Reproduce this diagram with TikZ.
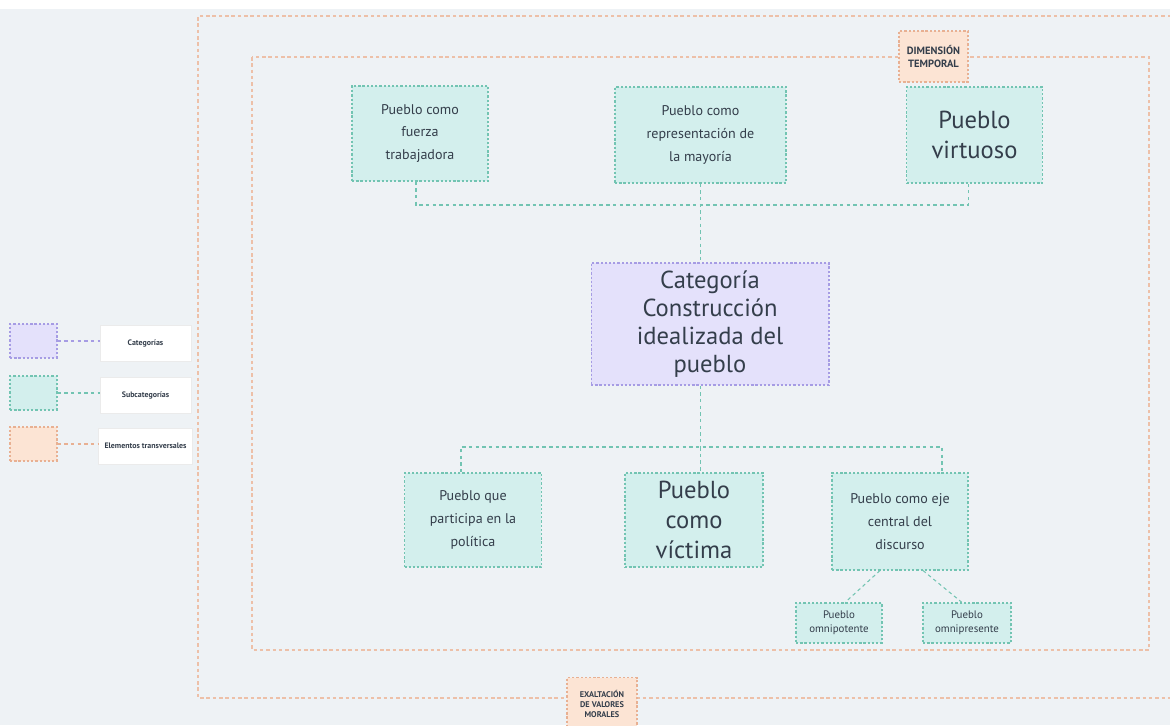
\documentclass[tikz,border=0pt]{standalone}
\usepackage{fontspec}
\setmainfont{PT Sans}
\usetikzlibrary{positioning,calc}

\definecolor{bgcol}{HTML}{EEF2F5}
\definecolor{ink}{HTML}{343E4B}
\definecolor{catfill}{HTML}{E4E1FB}
\definecolor{catline}{HTML}{A69CE4}
\definecolor{subfill}{HTML}{D3EFED}
\definecolor{subline}{HTML}{72C4B2}
\definecolor{transfill}{HTML}{FCE4D4}
\definecolor{transline}{HTML}{E8B092}

\tikzset{
  dots/.style={dash pattern=on 1.3pt off 1.1pt, line width=0.6pt},
  catbox/.style={draw=catline, fill=catfill, dots},
  subbox/.style={draw=subline, fill=subfill, dots, align=center, text=ink},
  transbox/.style={draw=transline, fill=transfill, dots, align=center, text=ink},
  legbox/.style={draw=black!8, fill=white, minimum width=1.82cm, minimum height=0.72cm, text=ink, font=\fontsize{4.5}{6}\selectfont\bfseries},
  catlink/.style={draw=catline, dash pattern=on 2pt off 1.8pt, line width=0.6pt},
  sublink/.style={draw=subline, dash pattern=on 2pt off 1.8pt, line width=0.6pt},
  translink/.style={draw=transline, dash pattern=on 2pt off 1.8pt, line width=0.6pt},
  frame/.style={draw=transline!80, dash pattern=on 2pt off 1.6pt, line width=0.6pt},
  big/.style={font=\fontsize{14}{17}\selectfont},
  mid/.style={font=\fontsize{8}{13}\selectfont},
  small/.style={font=\fontsize{6.2}{8}\selectfont}
}

\begin{document}
\begin{tikzpicture}[x=0.02cm, y=-0.02cm]
  \useasboundingbox (0,0) rectangle (1170,725);
  \fill[bgcol] (0,0) rectangle (1170,725);
  \fill[white] (0,0) rectangle (1170,9);

  % frames
  \draw[frame] (1190,16) -- (198,16) -- (198,698) -- (1190,698);
  \draw[frame] (252,57) rectangle (1149,650);
  \node[transbox, font=\fontsize{6}{7.4}\selectfont\bfseries, minimum width=1.38cm, minimum height=1.02cm] (temporal) at (933.5,56.5) {DIMENSIÓN\\TEMPORAL};
  \node[transbox, font=\fontsize{4.7}{5.7}\selectfont\bfseries, minimum width=1.4cm, minimum height=1.06cm, anchor=north] (morales) at (602,677) {EXALTACIÓN\\DE VALORES\\MORALES};

  % legend
  \foreach \y/\kind/\txt in {324/cat/Categorías,376/sub/Subcategorías,427/trans/Elementos transversales}{
    \node[\kind box, minimum width=0.94cm, minimum height=0.68cm] (\kind sq) at (33.5,\y+17) {};
    \node[legbox] (\kind leg) at (145.5,\y+19) {\txt};
    \draw[\kind link] (\kind sq.east) -- (\kind sq.east -| \kind leg.west);
  }

  % upper subcategories
  \node[subbox, mid, minimum width=2.72cm, minimum height=1.9cm] (fuerza) at (420,133.5) {Pueblo como\\fuerza\\trabajadora};
  \node[subbox, mid, minimum width=3.42cm, minimum height=1.92cm] (mayoria) at (700.5,135) {Pueblo como\\representación de\\la mayoría};
  \node[subbox, big, minimum width=2.72cm, minimum height=1.92cm] (virtuoso) at (974.5,135) {Pueblo\\virtuoso};

  % category
  \node[catbox, align=center, text=ink, font=\fontsize{14}{16}\selectfont, minimum width=4.76cm, minimum height=2.44cm] (cat) at (710,324) {Categoría\\Construcción\\idealizada del\\pueblo};

  % lower subcategories
  \node[subbox, mid, minimum width=2.74cm, minimum height=1.88cm] (politica) at (473,520) {Pueblo que\\participa en la\\política};
  \node[subbox, big, minimum width=2.76cm, minimum height=1.88cm] (victima) at (694,520) {Pueblo\\como\\víctima};
  \node[subbox, mid, minimum width=2.72cm, minimum height=1.94cm] (eje) at (900,521.5) {Pueblo como eje\\central del\\discurso};
  \node[subbox, small, minimum width=1.72cm, minimum height=0.8cm] (omnipotente) at (839,623) {Pueblo\\omnipotente};
  \node[subbox, small, minimum width=1.76cm, minimum height=0.8cm] (omnipresente) at (967,623) {Pueblo\\omnipresente};

  % connectors
  \coordinate (upbus) at (700.5,205);
  \draw[sublink] ($(fuerza.south)+(-4,0)$) |- (upbus) -| ($(virtuoso.south)+(-6,0)$);
  \draw[sublink] (mayoria.south) -- (mayoria.south |- cat.north);
  \coordinate (lowbus) at (700.5,447);
  \draw[sublink] (mayoria.south |- cat.south) -- (lowbus);
  \draw[sublink] ($(politica.north)+(-12,0)$) |- (lowbus) -| ($(eje.north)+(42,0)$);
  \draw[sublink] (lowbus) -- (lowbus |- victima.north);
  \draw[sublink] ($(eje.south)+(-20,0)$) -- ($(omnipotente.north)+(6,0)$);
  \draw[sublink] ($(eje.south)+(23,0)$) -- ($(omnipresente.north)+(-5,0)$);
\end{tikzpicture}
\end{document}
